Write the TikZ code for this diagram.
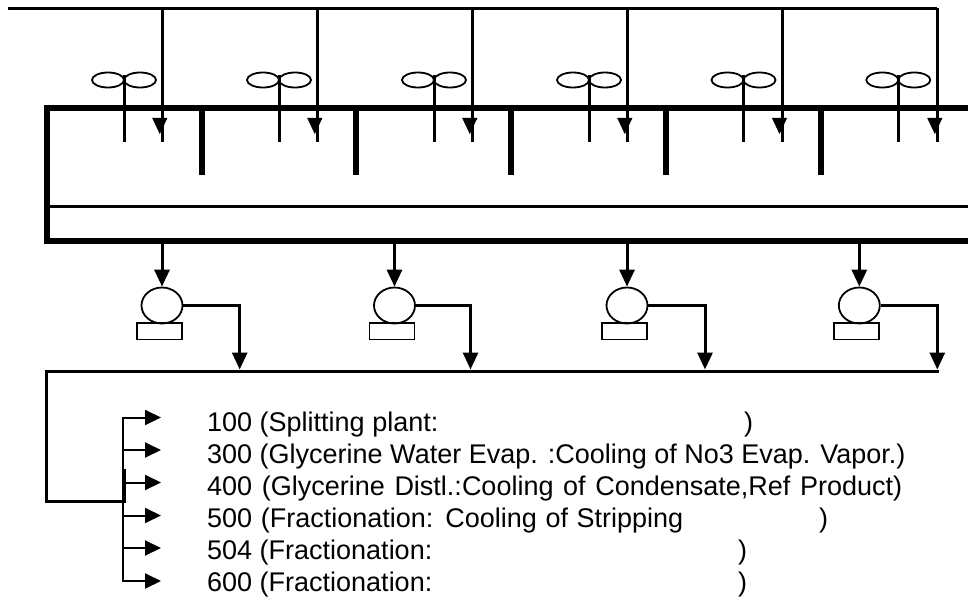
\documentclass[tikz,border=0pt]{standalone}
\usepackage{fontspec}
\setmainfont{Liberation Sans}
\usetikzlibrary{arrows.meta,shapes.geometric}
\tikzset{
  heavy/.style={line width=5.6pt},
  pipe/.style={line width=3pt},
  thinpipe/.style={line width=2pt},
  flow/.style={pipe,-{Triangle[length=17pt,width=15pt]}},
  headonly/.style={line width=0.5pt,-{Triangle[length=16pt,width=15pt]}},
  smallflow/.style={thinpipe,-{Triangle[length=16pt,width=15pt]}},
  blade/.style={draw,ellipse,line width=1.8pt,minimum width=32pt,minimum height=15pt,inner sep=0pt},
  pumpbody/.style={draw,ellipse,line width=1.8pt,minimum width=41pt,minimum height=36pt,inner sep=0pt},
  pumpbase/.style={draw,rectangle,line width=1.8pt,minimum width=45pt,minimum height=16.5pt,inner sep=0pt},
  lab/.style={anchor=base west,inner sep=0pt,font=\fontsize{27}{27}\selectfont}
}
\begin{document}
\begin{tikzpicture}[x=1pt,y=-1pt]
\useasboundingbox (0,0) rectangle (968,599);
% cooling water supply
\coordinate (supL) at (8,8.5);
\coordinate (supR) at (937.3,8.5);
\draw[pipe] (supL) -- (supR);
\foreach \i/\x in {1/162.3,2/317.3,3/472.3,4/627.3,5/782,6/937.3}{
  \coordinate (dropT\i) at (\x,8.5);
  \coordinate (dropE\i) at (\x,142);
  \coordinate (headS\i) at (\x-2.5,118);
  \coordinate (headA\i) at (\x-2.5,134);
  \draw[pipe] (dropT\i) -- (dropE\i);
  \draw[headonly] (headS\i) -- (headA\i);
}
% tower basin
\coordinate (frTR) at (968,108);
\coordinate (frBR) at (968,240.7);
\coordinate (frTL) at (47,108);
\coordinate (frBL) at (47,240.7);
\draw[heavy,miter limit=10] (frTR) -- (frTL) -- (frBL) -- (frBR);
\coordinate (midL) at (47,206);
\coordinate (midR) at (968,206);
\draw[pipe] (midL) -- (midR);
\foreach \i/\x in {1/201.7,2/356,3/511,4/666,5/820.7}{
  \coordinate (bafT\i) at (\x,108);
  \coordinate (bafB\i) at (\x,175);
  \draw[heavy] (bafT\i) -- (bafB\i);
}
% fans
\foreach \i/\x in {1/124,2/279,3/434,4/589,5/743.5,6/898.3}{
  \node[blade] (fanL\i) at (\x-16,80) {};
  \node[blade] (fanR\i) at (\x+16,80) {};
  \coordinate (stemT\i) at (\x,75);
  \coordinate (stemB\i) at (\x,142);
  \draw[pipe] (stemT\i) -- (stemB\i);
}
% header
\coordinate (hdrR) at (938.7,371.3);
\coordinate (hdrL) at (46.7,371.3);
\coordinate (hdrB) at (46.7,501.3);
\coordinate (busJ) at (124,501.3);
\coordinate (busK) at (124,469);
\draw[pipe] (hdrR) -- (hdrL) -- (hdrB) -- (busJ) -- (busK);
% pumps
\foreach \i/\x/\o in {1/162/239.7,2/394.5/470.5,3/627/705,4/859.3/937.3}{
  \node[pumpbody] (pump\i) at (\x,305.5) {};
  \node[pumpbase] (base\i) at (\x-2.5,331.2) {};
  \coordinate (suc\i) at (\x,240.7);
  \coordinate (out\i) at (\o,305.5);
  \coordinate (inl\i) at (\o,369.5);
  \draw[flow] (suc\i) -- (pump\i.north);
  \draw[flow] (pump\i.east) -- (out\i) -- (inl\i);
}
% distribution
\coordinate (busT) at (122.7,417.3);
\coordinate (busB) at (122.7,581.7);
\draw[thinpipe] (busT) -- (busB);
\foreach \i/\y in {1/417.5,2/450,3/482.5,4/515.5,5/548,6/581}{
  \coordinate (bs\i) at (122.7,\y);
  \coordinate (bt\i) at (161,\y);
  \draw[smallflow] (bs\i) -- (bt\i);
}
% labels
\node[lab] (t1) at (207,431) {\makebox[537pt][l]{100 (Splitting plant:})};
\node[lab] (t2) at (207,463.1) {300 (Glycerine Water Evap. :Cooling of No3 Evap. Vapor.)};
\node[lab] (t3) at (207,495.3) {\makebox[695pt][s]{400 (Glycerine Distl.:Cooling of Condensate,Ref Product)}};
\node[lab] (t4) at (207,527.4) {\makebox[612pt][l]{\makebox[476pt][s]{500 (Fractionation: Cooling of Stripping}})};
\node[lab] (t5) at (207,559.6) {\makebox[531pt][l]{504 (Fractionation:})};
\node[lab] (t6) at (207,591.7) {\makebox[531pt][l]{600 (Fractionation:})};
\end{tikzpicture}
\end{document}
